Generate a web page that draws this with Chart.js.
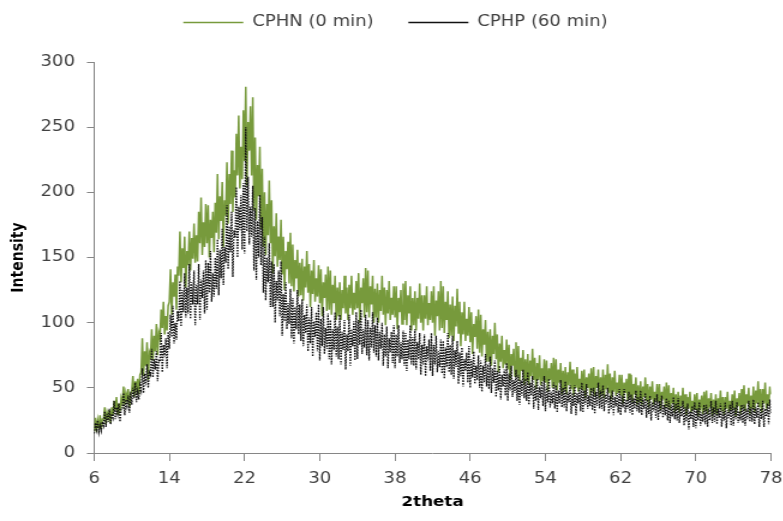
<!DOCTYPE html>
<html>
<head>
<meta charset="utf-8">
<script src="https://cdn.jsdelivr.net/npm/chart.js@4.4.1/dist/chart.umd.min.js"></script>
<style>
    html, body { margin: 0; padding: 0; background: #fff; overflow: hidden; }
    /* the original picture is stretched sideways, so the chart is drawn narrower and widened */
    #wrap { width: 652px; height: 521px; transform: scaleX(1.2); transform-origin: 0 0; }
</style>
</head>
<body>
<div id="wrap"><canvas id="chart" width="652" height="521"></canvas></div>
<script>
// 2theta sampling: 6 to 78 deg in 0.125 deg steps (one row per degree)
const ANGLE_START = 6;
const ANGLE_STEP = 0.125;

const xTicks = [6, 14, 22, 30, 38, 46, 54, 62, 70, 78];
const yTicks = [0, 50, 100, 150, 200, 250, 300];

const seriesNames = ["CPHN (0 min)", "CPHP (60 min)"];

// CPHN (0 min)
const cphn = [
    17, 27, 16, 25, 19, 29, 18, 26,
    26, 35, 22, 31, 27, 33, 23, 35,
    29, 40, 33, 43, 30, 38, 32, 42,
    38, 51, 37, 46, 41, 49, 35, 45,
    48, 59, 43, 55, 49, 57, 45, 60,
    62, 88, 59, 78, 67, 85, 56, 77,
    74, 95, 71, 90, 78, 99, 75, 92,
    88, 110, 96, 116, 91, 105, 94, 113,
    116, 141, 106, 131, 120, 137, 110, 143,
    136, 170, 131, 157, 142, 166, 127, 155,
    144, 170, 140, 165, 149, 176, 146, 167,
    147, 185, 161, 196, 152, 177, 158, 191,
    161, 190, 150, 179, 165, 185, 154, 192,
    169, 214, 164, 197, 178, 208, 158, 194,
    182, 223, 176, 214, 191, 232, 185, 217,
    196, 245, 213, 259, 203, 235, 210, 263,
    224, 281, 205, 254, 232, 266, 213, 273,
    186, 242, 179, 221, 197, 235, 172, 218,
    158, 200, 152, 191, 167, 209, 161, 194,
    138, 174, 151, 184, 143, 166, 148, 179,
    137, 166, 125, 155, 141, 162, 130, 169,
    128, 160, 124, 148, 134, 156, 120, 146,
    121, 149, 117, 143, 127, 155, 123, 145,
    112, 140, 122, 148, 116, 134, 120, 144,
    115, 141, 105, 131, 119, 137, 109, 143,
    110, 140, 106, 129, 115, 136, 102, 127,
    105, 131, 102, 125, 111, 136, 107, 127,
    102, 129, 111, 136, 106, 123, 110, 132,
    111, 138, 100, 127, 115, 134, 104, 142,
    108, 140, 104, 128, 114, 136, 100, 126,
    104, 130, 100, 125, 109, 136, 106, 127,
    98, 125, 107, 132, 102, 119, 106, 128,
    104, 128, 95, 119, 108, 125, 99, 130,
    102, 132, 98, 121, 107, 128, 94, 119,
    98, 124, 94, 119, 103, 130, 100, 121,
    94, 121, 103, 128, 98, 115, 102, 124,
    100, 128, 90, 117, 105, 124, 94, 132,
    96, 128, 92, 116, 102, 124, 88, 114,
    90, 120, 86, 113, 97, 126, 92, 116,
    82, 108, 91, 116, 86, 103, 90, 112,
    85, 108, 76, 99, 89, 105, 80, 110,
    77, 106, 74, 95, 83, 102, 70, 93,
    70, 95, 67, 90, 76, 100, 72, 91,
    62, 84, 70, 90, 65, 79, 68, 87,
    64, 83, 56, 76, 67, 80, 59, 85,
    58, 82, 55, 73, 63, 79, 52, 72,
    55, 76, 52, 71, 59, 80, 56, 73,
    49, 69, 56, 75, 52, 65, 55, 72,
    54, 71, 47, 65, 56, 69, 50, 73,
    50, 72, 48, 64, 54, 69, 45, 63,
    48, 66, 45, 62, 52, 70, 49, 64,
    44, 61, 50, 66, 47, 57, 49, 63,
    48, 64, 42, 58, 50, 61, 44, 65,
    47, 66, 44, 59, 50, 64, 42, 58,
    45, 64, 42, 60, 49, 68, 46, 61,
    41, 58, 47, 63, 44, 54, 46, 60,
    44, 60, 38, 54, 46, 57, 40, 61,
    42, 60, 39, 53, 45, 58, 37, 52,
    39, 55, 37, 51, 43, 58, 40, 53,
    35, 51, 41, 55, 37, 47, 40, 53,
    39, 53, 33, 47, 41, 51, 35, 54,
    35, 52, 33, 46, 38, 50, 31, 45,
    33, 47, 31, 44, 36, 50, 34, 45,
    29, 43, 34, 47, 31, 40, 33, 45,
    33, 46, 28, 41, 35, 44, 30, 47,
    32, 48, 30, 42, 35, 46, 28, 41,
    31, 45, 29, 42, 34, 48, 32, 43,
    29, 43, 34, 47, 31, 40, 33, 45,
    34, 48, 28, 42, 36, 46, 30, 49,
    34, 52, 32, 45, 38, 50, 30, 44,
    34, 51, 31, 48, 38, 55, 35, 49,
    31, 49, 38, 54, 34, 45, 36, 51,
    45
];

// CPHP (60 min)
const cphp = [
    15, 23, 18, 25, 16, 21, 17, 24,
    21, 32, 20, 30, 24, 34, 22, 30,
    27, 40, 26, 35, 30, 38, 24, 34,
    34, 46, 29, 41, 36, 44, 31, 47,
    37, 50, 42, 54, 39, 47, 41, 52,
    48, 65, 46, 61, 52, 68, 50, 62,
    60, 80, 58, 72, 64, 78, 55, 71,
    70, 92, 62, 83, 74, 88, 65, 93,
    80, 106, 89, 113, 84, 100, 87, 109,
    101, 132, 97, 125, 108, 138, 104, 127,
    107, 145, 103, 131, 114, 140, 98, 129,
    114, 145, 102, 133, 119, 140, 107, 148,
    110, 146, 123, 155, 116, 138, 120, 150,
    126, 164, 121, 156, 134, 172, 129, 158,
    146, 190, 141, 174, 154, 185, 135, 171,
    165, 204, 150, 189, 171, 198, 156, 207,
    153, 250, 170, 212, 160, 189, 166, 205,
    140, 188, 133, 178, 150, 198, 144, 181,
    123, 166, 117, 150, 131, 161, 112, 147,
    112, 145, 100, 132, 117, 140, 105, 147,
    90, 122, 101, 131, 95, 115, 99, 126,
    88, 119, 84, 112, 95, 125, 91, 114,
    86, 118, 82, 106, 92, 114, 78, 104,
    84, 112, 74, 101, 89, 108, 78, 114,
    71, 103, 82, 112, 76, 96, 80, 107,
    72, 102, 68, 95, 79, 108, 74, 97,
    72, 106, 68, 93, 79, 102, 64, 91,
    78, 106, 67, 95, 82, 101, 71, 108,
    72, 102, 83, 110, 76, 95, 81, 106,
    75, 102, 71, 96, 81, 108, 77, 98,
    74, 104, 71, 93, 80, 100, 67, 91,
    74, 97, 65, 88, 77, 93, 69, 98,
    65, 91, 74, 98, 69, 85, 72, 94,
    67, 92, 63, 87, 72, 98, 68, 89,
    67, 95, 64, 85, 72, 92, 60, 83,
    68, 91, 59, 82, 71, 87, 63, 92,
    59, 83, 68, 90, 62, 78, 66, 87,
    61, 86, 57, 81, 66, 92, 62, 83,
    60, 90, 57, 79, 66, 86, 53, 77,
    59, 81, 51, 72, 63, 77, 54, 82,
    50, 72, 58, 78, 53, 67, 56, 75,
    50, 71, 47, 67, 54, 76, 51, 68,
    49, 74, 46, 65, 54, 71, 43, 63,
    48, 67, 41, 60, 51, 64, 44, 69,
    40, 61, 48, 67, 43, 56, 46, 64,
    40, 60, 37, 56, 44, 64, 42, 57,
    40, 62, 37, 54, 44, 59, 34, 52,
    40, 57, 33, 51, 42, 55, 36, 59,
    32, 51, 39, 57, 35, 47, 38, 54,
    34, 52, 31, 48, 38, 56, 35, 50,
    35, 55, 32, 47, 39, 52, 30, 46,
    36, 52, 29, 46, 38, 50, 32, 54,
    31, 48, 37, 53, 34, 44, 36, 50,
    33, 50, 30, 47, 36, 54, 34, 48,
    34, 52, 32, 45, 38, 50, 30, 44,
    34, 48, 29, 43, 36, 46, 31, 49,
    29, 44, 35, 49, 31, 41, 34, 47,
    31, 45, 29, 42, 34, 48, 32, 43,
    31, 48, 29, 42, 34, 46, 27, 41,
    30, 44, 25, 39, 32, 42, 27, 45,
    25, 40, 30, 44, 27, 37, 29, 42,
    25, 40, 23, 37, 28, 43, 26, 38,
    25, 42, 23, 36, 28, 40, 21, 35,
    24, 38, 18, 32, 26, 36, 20, 39,
    19, 34, 25, 39, 21, 31, 24, 37,
    22, 37, 20, 34, 25, 40, 23, 35,
    24, 40, 22, 34, 27, 38, 20, 33,
    25, 39, 19, 33, 27, 37, 21, 40,
    21, 35, 26, 39, 23, 32, 25, 37,
    23, 37, 21, 34, 26, 40, 24, 35,
    24, 41, 22, 35, 27, 39, 20, 34,
    26, 40, 20, 34, 28, 38, 22, 41,
    30
];

const twoTheta = cphn.map((_, i) => ANGLE_START + i * ANGLE_STEP);

function toPoints(values) {
    return values.map((v, i) => ({ x: twoTheta[i], y: v }));
}

const AXIS_COLOR = "#868686";
const TEXT_COLOR = "#404040";

new Chart("chart", {
    type: "line",
    data: {
        datasets: [
            {
                label: seriesNames[0],
                data: toPoints(cphn),
                borderColor: "#779a3c",
                backgroundColor: "#779a3c",
                borderWidth: 1.5,
                pointRadius: 0,
                tension: 0,
                order: 2,
            },
            {
                label: seriesNames[1],
                data: toPoints(cphp),
                borderColor: "#111111",
                backgroundColor: "#111111",
                borderWidth: 1.3,
                borderDash: [1.5, 1.2],
                pointRadius: 0,
                tension: 0,
                order: 1,
            },
        ],
    },
    options: {
        responsive: false,
        animation: false,
        parsing: false,
        layout: {
            padding: { top: -14, left: 7, right: 0, bottom: 4 },
        },
        plugins: {
            tooltip: { enabled: false },
            legend: {
                position: "top",
                labels: {
                    boxWidth: 50,
                    boxHeight: 0,
                    padding: 29,
                    color: TEXT_COLOR,
                    font: { family: "DejaVu Sans", size: 15 },
                    sort: (a, b) => a.datasetIndex - b.datasetIndex,
                },
            },
            // empty title used only as a spacer between the legend and the plot
            title: {
                display: true,
                text: "",
                weight: 500,
                font: { size: 10 },
                padding: { top: 0, bottom: 10 },
            },
        },
        scales: {
            x: {
                type: "linear",
                min: 6,
                max: 78,
                afterBuildTicks: axis => {
                    axis.ticks = xTicks.map(v => ({ value: v }));
                },
                // only leave room for half of the last label on the right
                afterFit: axis => {
                    axis.paddingRight = 9.5;
                },
                border: { color: AXIS_COLOR, width: 1 },
                grid: { drawOnChartArea: false, drawTicks: true, tickLength: 8, color: AXIS_COLOR },
                ticks: {
                    color: TEXT_COLOR,
                    padding: 9.5,
                    maxRotation: 0,
                    font: { family: "DejaVu Sans", size: 15 },
                },
                title: {
                    display: true,
                    text: "2theta",
                    color: "#000000",
                    padding: { top: -4.4, bottom: 6.6 },
                    font: { family: "DejaVu Sans", size: 14, weight: "bold" },
                },
            },
            y: {
                min: 0,
                max: 300,
                afterBuildTicks: axis => {
                    axis.ticks = yTicks.map(v => ({ value: v }));
                },
                border: { color: AXIS_COLOR, width: 1 },
                grid: { drawOnChartArea: false, drawTicks: true, tickLength: 6, color: AXIS_COLOR },
                ticks: {
                    color: TEXT_COLOR,
                    padding: 10,
                    font: { family: "DejaVu Sans", size: 15 },
                },
                title: {
                    display: true,
                    text: "Intensity",
                    color: "#000000",
                    padding: 0,
                    font: { family: "DejaVu Sans", size: 14, weight: "bold" },
                },
            },
        },
    },
});
</script>
</body>
</html>
